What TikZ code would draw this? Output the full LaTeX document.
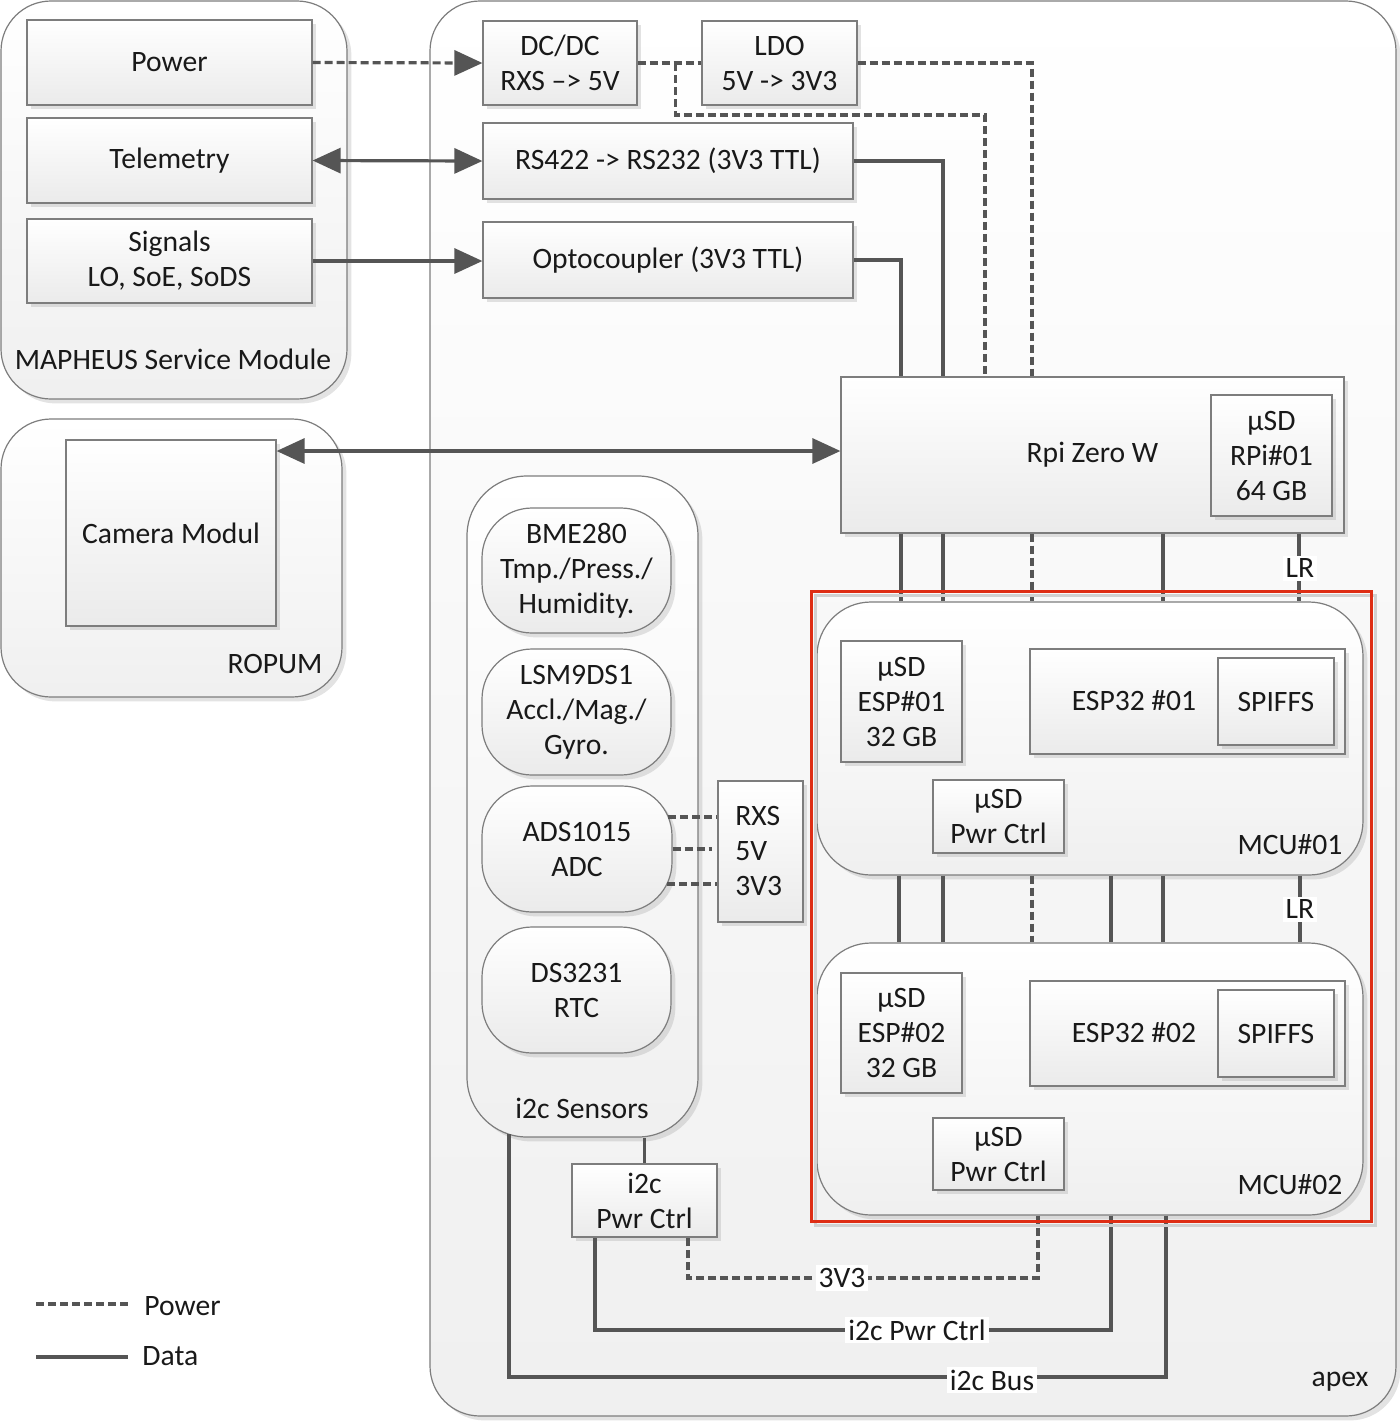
\documentclass[tikz,border=0pt]{standalone}
\usepackage{fontspec}
\setmainfont{Carlito}
\usetikzlibrary{arrows.meta,shadows,calc}
\definecolor{lc}{RGB}{85,85,85}
\definecolor{bc}{RGB}{125,125,125}
\definecolor{redc}{RGB}{222,45,20}
\begin{document}
\begin{tikzpicture}[x=0.5pt,y=-0.5pt,
  font=\fontsize{14.8pt}{17.5pt}\selectfont,
  every node/.style={inner sep=0pt, align=center, text=black!90},
  sz/.style 2 args={minimum width=#1*0.5pt, minimum height=#2*0.5pt},
  shd/.style={drop shadow={shadow xshift=2.2pt,shadow yshift=-2.2pt,fill=black!40,opacity=0.28}},
  box/.style={draw=bc, line width=0.6pt, top color=white, bottom color=black!8, shd},
  cont/.style={draw=bc, line width=0.6pt, rounded corners=25pt, top color=white, bottom color=black!6, shd},
  sensor/.style={draw=bc, line width=0.6pt, rounded corners=25pt, top color=white, bottom color=black!8, shd},
  data/.style={draw=lc, line width=1.6pt},
  pwr/.style={draw=lc, line width=1.6pt, dash pattern=on 4pt off 2pt},
  arr/.style={arrows={-Triangle[length=14pt,width=12.5pt]}},
  darr/.style={arrows={Triangle[length=14pt,width=12.5pt]-Triangle[length=14pt,width=12.5pt]}},
  lbl/.style={fill=white, inner sep=1.5pt},
]
\useasboundingbox (0,0) rectangle (1400,1421);
% containers
\node[cont, sz={346}{398}] (msm) at (174,200) {};
\node[cont, sz={341}{278}] (ropum) at (171.5,558) {};
\node[cont, sz={966}{1415}] (apex) at (913,708.5) {};
\node[cont, rounded corners=30pt, sz={231}{661}] (sens) at (582.5,806.5) {};
\node[cont, rounded corners=27pt, sz={546}{273}] (mcu1) at (1090,738.5) {};
\node[cont, rounded corners=27pt, sz={546}{272}] (mcu2) at (1090,1079) {};
% boxes
\node[box, sz={285}{85}] (power) at (169.5,62.5) {Power};
\node[box, sz={285}{85}] (tele) at (169.5,160.5) {Telemetry};
\node[box, sz={285}{84}] (sig) at (169.5,261) {Signals\\LO, SoE, SoDS};
\node[box, sz={154}{84}] (dcdc) at (560,63) {DC/DC\\RXS –> 5V};
\node[box, sz={155}{84}] (ldo) at (779.5,63) {LDO\\5V -> 3V3};
\node[box, sz={370}{76}] (rs) at (668,161) {RS422 -> RS232 (3V3 TTL)};
\node[box, sz={370}{76}] (opto) at (668,260) {Optocoupler (3V3 TTL)};
\node[box, sz={503}{156}] (rpi) at (1092.5,455) {Rpi Zero W};
\node[box, sz={121}{121}] (sdrpi) at (1271.5,455.5) {µSD\\RPi\#01\\64 GB};
\node[box, sz={210}{186}] (cam) at (171,533) {Camera Modul};
\node[box, sz={121}{121}] (sd1) at (901.5,701.5) {µSD\\ESP\#01\\32 GB};
\node[box, sz={315}{105}] (esp1) at (1187.5,701.5) {};
\node[box, sz={116}{87}] (spf1) at (1276,701.5) {SPIFFS};
\node[box, sz={131}{73}] (pc1) at (998.5,816.5) {µSD\\Pwr Ctrl};
\node[box, sz={121}{120}] (sd2) at (901.5,1033) {µSD\\ESP\#02\\32 GB};
\node[box, sz={315}{105}] (esp2) at (1187.5,1033.5) {};
\node[box, sz={116}{87}] (spf2) at (1276,1033.5) {SPIFFS};
\node[box, sz={131}{72}] (pc2) at (998.5,1154) {µSD\\Pwr Ctrl};
\node[box, sz={145}{73}] (i2cpc) at (644.5,1200.5) {i2c\\Pwr Ctrl};
\node[box, sz={85}{141}] (rxs) at (760.5,851.5) {};
\node[anchor=west, align=left] (rxst) at (735,851) {RXS\\5V\\3V3};
% sensors
\node[sensor, sz={189}{125}] (bme) at (576.5,570.5) {BME280\\Tmp./Press./\\Humidity.};
\node[sensor, sz={189}{126}] (lsm) at (576.5,712) {LSM9DS1\\Accl./Mag./\\Gyro.};
\node[sensor, sz={190}{126}] (ads) at (577,849) {ADS1015\\ADC};
\node[sensor, sz={189}{126}] (ds) at (576.5,990) {DS3231\\RTC};
% labels
\node (lmsm) at (173,359) {MAPHEUS Service Module};
\node (lrop) at (275,664) {ROPUM};
\node (lsens) at (582,1108) {i2c Sensors};
\node (lm1) at (1290,845) {MCU\#01};
\node (lm2) at (1290,1185) {MCU\#02};
\node (lapex) at (1340,1382) {apex};
\node (le1) at (1134,701) {ESP32 \#01};
\node (le2) at (1134,1033) {ESP32 \#02};
% connectors: service module
\draw[pwr, arr] (power.east) -- (dcdc.west);
\draw[data, darr] (tele.east) -- (rs.west);
\draw[data, arr] (sig.east) -- (sig.east -| opto.west);
\coordinate (camy) at (0,451);
\draw[data, darr] (cam.east |- camy) -- (rpi.west |- camy);
% power distribution
\draw[pwr] (dcdc.east) -- (ldo.west);
\coordinate (br) at ($(dcdc.east)!0.6!(ldo.west)$);
\draw[pwr] (br) |- (985,115) -- (985,115 |- rpi.north);
\draw[pwr] (ldo.east) -| (1032,0 |- rpi.north);
\draw[data] (rs.east) -| (943,0 |- rpi.north);
\draw[data] (opto.east) -| (901,0 |- rpi.north);
% rpi to mcu1
\foreach \x in {901,943,1163} \draw[data] (\x,0 |- rpi.south) -- (\x,0 |- mcu1.north);
\draw[pwr] (1032,0 |- rpi.south) -- (1032,0 |- mcu1.north);
\draw[data] (1299,0 |- rpi.south) -- (1299,0 |- mcu1.north);
\node[lbl] (lr1) at (1300,568) {LR};
% mcu1 to mcu2
\foreach \x in {899,943,1111,1163} \draw[data] (\x,0 |- mcu1.south) -- (\x,0 |- mcu2.north);
\draw[pwr] (1032,0 |- mcu1.south) -- (1032,0 |- mcu2.north);
\draw[data] (1300,0 |- mcu1.south) -- (1300,0 |- mcu2.north);
\node[lbl] (lr2) at (1300,909) {LR};
% bottom buses
\draw[pwr] (1038,0 |- mcu2.south) |- (688,1278) -- (688,0 |- i2cpc.south);
\node[lbl] (l3v3) at (842,1278) {3V3};
\draw[data] (1111,0 |- mcu2.south) |- (595,1330) -- (595,0 |- i2cpc.south);
\node[lbl] (lpc) at (917,1330) {i2c Pwr Ctrl};
\draw[data] (1166,0 |- mcu2.south) |- (509,1377) -- (509,1134);
\node[lbl] (lbus) at (992,1380) {i2c Bus};
\draw[data] (i2cpc.north |- sens.south) -- (i2cpc.north);
% ADC supply
\draw[pwr] (668,817) -- (rxs.west |- 0,817);
\draw[pwr] (ads.east) -- ($(rxs.west |- ads.east)+(-5,0)$);
\draw[pwr] (667,884) -- (rxs.west |- 0,884);
% red frame with light shadow outline
\draw[black!18, line width=1.5pt] (815,595) rectangle (1375,1225);
\node[draw=redc, line width=1.5pt, sz={560}{630}] (redf) at (1091,906) {};
% legend
\draw[pwr] (36,1304) -- (128,1304);
\node[anchor=west] (lgp) at (144,1306) {Power};
\draw[data] (36,1357) -- (128,1357);
\node[anchor=west] (lgd) at (142,1356) {Data};
\end{tikzpicture}
\end{document}
